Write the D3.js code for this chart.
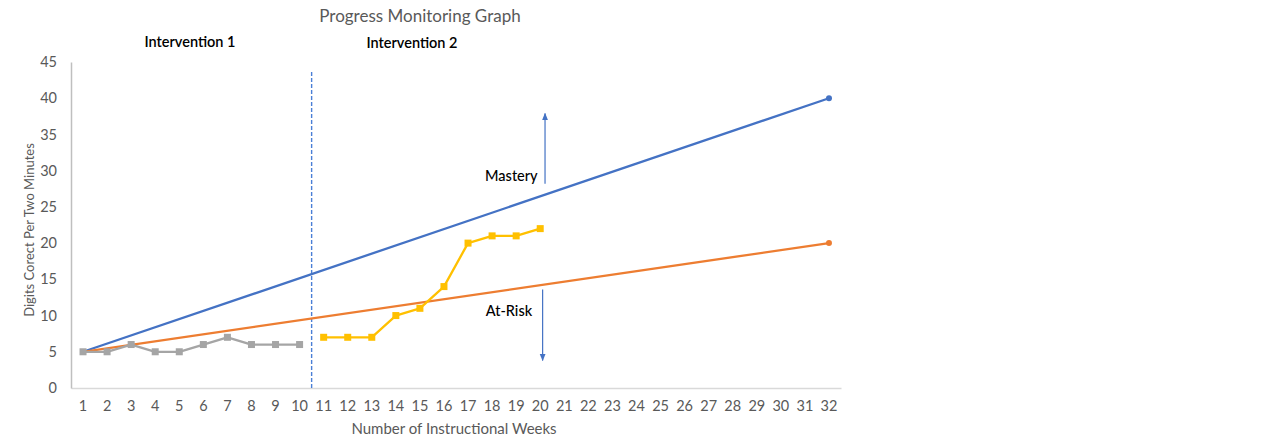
<!DOCTYPE html>
<html>
<head>
<meta charset="utf-8">
<script src="https://cdn.jsdelivr.net/npm/d3@7"></script>
<style>
  html, body { margin: 0; padding: 0; background: #fff; }
  #wrapper { width: 1280px; height: 444px; }
  text { font-family: Lato, "Open Sans", sans-serif; }
</style>
</head>
<body>
<div id="wrapper"></div>
<script>
// weeks on the x axis
const weeks = d3.range(1, 33).map(String);
const yTicks = [0, 5, 10, 15, 20, 25, 30, 35, 40, 45];

// intervention 1 scores (grey)
const int1Weeks = ["1", "2", "3", "4", "5", "6", "7", "8", "9", "10"];
const int1Values = [5, 5, 6, 5, 5, 6, 7, 6, 6, 6];

// intervention 2 scores (yellow)
const int2Weeks = ["11", "12", "13", "14", "15", "16", "17", "18", "19", "20"];
const int2Values = [7, 7, 7, 10, 11, 14, 20, 21, 21, 22];

// goal lines
const goalWeeks = ["1", "32"];
const masteryValues = [5, 40];
const atRiskValues = [5, 20];

// phase change between week 10 and 11
const phaseBreak = ["10", "11"];

// arrows (week position, from value, to value)
const masteryArrow = { week: 20.2, from: 28.2, to: 37.9 };
const atRiskArrow = { week: 20.1, from: 13.6, to: 3.8 };

const dimensions = {
    width: 1280,
    height: 444,
    margin: { top: 62, right: 439, bottom: 56, left: 71 }
};
dimensions.boundedWidth = dimensions.width - dimensions.margin.left - dimensions.margin.right;
dimensions.boundedHeight = dimensions.height - dimensions.margin.top - dimensions.margin.bottom;

const svg = d3.select("#wrapper")
    .append("svg")
    .attr("width", dimensions.width)
    .attr("height", dimensions.height);

const bounds = svg.append("g")
    .attr("transform", `translate(${dimensions.margin.left},${dimensions.margin.top})`);

const xScale = d3.scaleBand()
    .domain(weeks)
    .range([0, dimensions.boundedWidth])
    .paddingInner(0)
    .paddingOuter(0);
const xPos = (w) => xScale(w) + xScale.bandwidth() / 2;
// fractional week position (for annotations)
const xNum = d3.scaleLinear()
    .domain([1, 32])
    .range([xPos("1"), xPos("32")]);

const yScale = d3.scaleLinear()
    .domain([0, 45])
    .range([dimensions.boundedHeight, 0]);

// axes
const xAxis = bounds.append("g")
    .attr("transform", `translate(0,${dimensions.boundedHeight})`)
    .call(d3.axisBottom(xScale).tickSize(0).tickPadding(13));
xAxis.select(".domain").attr("stroke", "#d9d9d9").attr("stroke-width", 1.5);
xAxis.selectAll("text").attr("fill", "#595959").style("font-size", "14.5px");

const yAxis = bounds.append("g")
    .call(d3.axisLeft(yScale).tickValues(yTicks).tickSize(0).tickPadding(14));
yAxis.select(".domain").attr("stroke", "#bfbfbf").attr("stroke-width", 1.5);
yAxis.selectAll("text").attr("fill", "#595959").style("font-size", "14.5px");

// phase change line
const breakX = (xPos(phaseBreak[0]) + xPos(phaseBreak[1])) / 2;
bounds.append("line")
    .attr("x1", breakX).attr("x2", breakX)
    .attr("y1", 10).attr("y2", dimensions.boundedHeight)
    .attr("stroke", "#4a7fd6")
    .attr("stroke-width", 1.4)
    .attr("stroke-dasharray", "4,2");

const line = d3.line()
    .x((d) => xPos(d.week))
    .y((d) => yScale(d.value));

function drawLine(ws, vs, color, width) {
    const data = ws.map((w, i) => ({ week: w, value: vs[i] }));
    bounds.append("path")
        .attr("d", line(data))
        .attr("fill", "none")
        .attr("stroke", color)
        .attr("stroke-width", width)
        .attr("stroke-linejoin", "round");
    return data;
}

// goal lines
const mastery = drawLine(goalWeeks, masteryValues, "#4472c4", 2.3);
const atRisk = drawLine(goalWeeks, atRiskValues, "#ed7d31", 2.3);
bounds.append("circle")
    .attr("cx", xPos(mastery[1].week)).attr("cy", yScale(mastery[1].value))
    .attr("r", 3).attr("fill", "#4472c4");
bounds.append("circle")
    .attr("cx", xPos(atRisk[1].week)).attr("cy", yScale(atRisk[1].value))
    .attr("r", 3).attr("fill", "#ed7d31");

// student data
function drawSeries(ws, vs, color) {
    const data = drawLine(ws, vs, color, 2.3);
    bounds.append("g").selectAll("rect")
        .data(data)
        .join("rect")
        .attr("x", (d) => xPos(d.week) - 3.5)
        .attr("y", (d) => yScale(d.value) - 3.5)
        .attr("width", 7)
        .attr("height", 7)
        .attr("fill", color);
}
drawSeries(int1Weeks, int1Values, "#a5a5a5");
drawSeries(int2Weeks, int2Values, "#ffc000");

// arrows
const defs = svg.append("defs");
defs.append("marker")
    .attr("id", "arrowhead")
    .attr("viewBox", "0 0 10 10")
    .attr("refX", 9).attr("refY", 5)
    .attr("markerWidth", 6).attr("markerHeight", 6)
    .attr("orient", "auto")
    .append("path")
    .attr("d", "M0,1 L10,5 L0,9 Z")
    .attr("fill", "#4472c4");

[masteryArrow, atRiskArrow].forEach((a) => {
    bounds.append("line")
        .attr("x1", xNum(a.week)).attr("x2", xNum(a.week))
        .attr("y1", yScale(a.from)).attr("y2", yScale(a.to))
        .attr("stroke", "#4472c4")
        .attr("stroke-width", 1.2)
        .attr("marker-end", "url(#arrowhead)");
});

// annotation labels
bounds.append("text")
    .attr("x", xNum(18.8)).attr("y", yScale(29.3))
    .attr("text-anchor", "middle")
    .attr("dy", "0.35em")
    .style("font-size", "14.5px")
    .style("font-weight", "500")
    .attr("fill", "#000")
    .text("Mastery");
bounds.append("text")
    .attr("x", xNum(18.7)).attr("y", yScale(10.6))
    .attr("text-anchor", "middle")
    .attr("dy", "0.35em")
    .style("font-size", "14.5px")
    .style("font-weight", "500")
    .attr("fill", "#000")
    .text("At-Risk");

// titles
svg.append("text")
    .attr("x", 420).attr("y", 22)
    .attr("text-anchor", "middle")
    .style("font-size", "17px")
    .attr("fill", "#595959")
    .text("Progress Monitoring Graph");

svg.append("text")
    .attr("x", 190).attr("y", 47)
    .attr("text-anchor", "middle")
    .style("font-size", "14.5px")
    .style("font-weight", "600")
    .attr("fill", "#000")
    .text("Intervention 1");
svg.append("text")
    .attr("x", 412).attr("y", 48)
    .attr("text-anchor", "middle")
    .style("font-size", "14.5px")
    .style("font-weight", "600")
    .attr("fill", "#000")
    .text("Intervention 2");

svg.append("text")
    .attr("x", 454).attr("y", 434)
    .attr("text-anchor", "middle")
    .style("font-size", "15px")
    .attr("fill", "#595959")
    .text("Number of Instructional Weeks");

svg.append("text")
    .attr("transform", "translate(29,230) rotate(-90)")
    .attr("text-anchor", "middle")
    .attr("dy", "0.35em")
    .style("font-size", "13px")
    .attr("fill", "#595959")
    .text("Digits Corect Per Two Minutes");
</script>
</body>
</html>
